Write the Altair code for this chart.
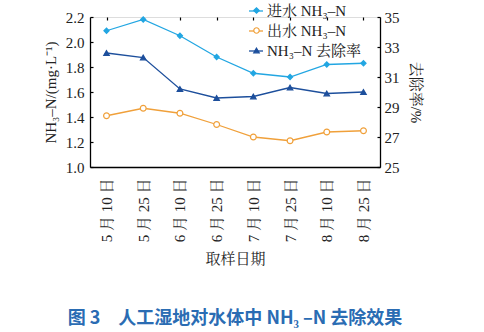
import altair as alt
import pandas as pd

dates = ["5 月 10 日", "5 月 25 日", "6 月 10 日", "6 月 25 日",
         "7 月 10 日", "7 月 25 日", "8 月 10 日", "8 月 25 日"]
inflow = [2.09, 2.18, 2.05, 1.88, 1.75, 1.72, 1.82, 1.83]
outflow = [1.41, 1.47, 1.43, 1.34, 1.24, 1.21, 1.28, 1.29]
removal = [32.6, 32.3, 30.2, 29.6, 29.7, 30.3, 29.9, 30.0]

S_IN = "进水 NH₃–N"
S_OUT = "出水 NH₃–N"
S_RM = "NH₃–N 去除率"
series = [S_IN, S_OUT, S_RM]
markers = ["m_in", "m_out", "m_rm"]
colors = ["#22a6e2", "#f0a03a", "#1d4f9c"]
fills = ["#22a6e2", "#ffffff", "#1d4f9c"]
shapes = ["diamond", "circle", "triangle-up"]

left_ticks = [1.0, 1.2, 1.4, 1.6, 1.8, 2.0, 2.2]
right_ticks = [25, 27, 29, 31, 33, 35]

rows = []
for name, mk, vals in [(S_IN, "m_in", inflow), (S_OUT, "m_out", outflow), (S_RM, "m_rm", removal)]:
    for d, v in zip(dates, vals):
        rows.append({"date": d, "series": name, "marker": mk, "value": v})
df = pd.DataFrame(rows)

FONT = "Liberation Serif, Noto Serif CJK SC, Noto Sans CJK SC"
LX, LY = 158, -14

xscale = alt.Scale(type="point", padding=0.45, domain=dates)

x_main = alt.X("date:N", scale=xscale, sort=dates, axis=alt.Axis(
    title="取样日期", labelAngle=-90, ticks=False, tickSize=0, labelPadding=11,
    domainColor="black", domainWidth=1.3, labelFont=FONT, labelFontSize=15,
    labelColor="#222", titleFont=FONT, titleFontSize=15, titleFontWeight="normal",
    titleColor="#222", titlePadding=10, grid=False))
x_tick = alt.X("date:N", scale=xscale, sort=dates, axis=alt.Axis(
    title=None, labels=False, domain=False, ticks=True, tickSize=3, offset=-3,
    tickColor="black", tickWidth=1.2, grid=False))
x_none = alt.X("date:N", scale=xscale, sort=dates, axis=None)

lscale = alt.Scale(domain=[1.0, 2.2], nice=False, zero=False)
rscale = alt.Scale(domain=[25, 35], nice=False, zero=False)

y_left_main = alt.Y("value:Q", scale=lscale, axis=alt.Axis(
    title="NH₃–N/(mg·L⁻¹)", values=left_ticks, format=".1f", ticks=False, tickSize=0,
    labelPadding=6, domainColor="black", domainWidth=1.3, labelFont=FONT,
    labelFontSize=15, labelColor="#222", titleFont=FONT, titleFontSize=15,
    titleFontWeight="normal", titleColor="#222", titlePadding=7, grid=False))
y_left_tick = alt.Y("value:Q", scale=lscale, axis=alt.Axis(
    title=None, values=left_ticks, labels=False, domain=False, tickSize=3, offset=-3,
    tickColor="black", tickWidth=1.2, grid=False))
y_left_none = alt.Y("value:Q", scale=lscale, axis=None)

y_right_main = alt.Y("value:Q", scale=rscale, axis=alt.Axis(
    orient="right", title="去除率/%", values=right_ticks, ticks=False, tickSize=0,
    labelPadding=4, domainColor="black", domainWidth=1.3, labelFont=FONT,
    labelFontSize=15, labelColor="#222", titleFont=FONT, titleFontSize=15,
    titleFontWeight="normal", titleColor="#222", titlePadding=8, grid=False))
y_right_tick = alt.Y("value:Q", scale=rscale, axis=alt.Axis(
    orient="right", title=None, values=right_ticks, labels=False, domain=False,
    tickSize=3, offset=-3, tickColor="black", tickWidth=1.2, grid=False))

line_color = alt.Color("series:N", scale=alt.Scale(domain=series, range=colors),
                       legend=alt.Legend(
                           title=None, orient="none", legendX=LX, legendY=LY,
                           symbolType="stroke", symbolSize=196, symbolStrokeWidth=1.3,
                           labelFont=FONT, labelFontSize=15, labelColor="#222",
                           rowPadding=4, padding=0, labelOffset=3))

pt_legend = alt.Legend(title=None, orient="none", legendX=LX + 1, legendY=LY,
                       symbolSize=30, symbolStrokeWidth=1.2, symbolOpacity=1,
                       labelFont=FONT, labelFontSize=15, labelExpr="' '",
                       rowPadding=4, padding=0, labelOffset=3)
pt_shape = alt.Shape("marker:N", scale=alt.Scale(domain=markers, range=shapes), legend=pt_legend)
pt_fill = alt.Fill("marker:N", scale=alt.Scale(domain=markers, range=fills), legend=pt_legend)
pt_stroke = alt.Stroke("marker:N", scale=alt.Scale(domain=markers, range=colors), legend=pt_legend)

base = alt.Chart(df)

def sel(name):
    return base.transform_filter(alt.datum.series == name)

l1 = sel(S_IN).mark_line(strokeWidth=1.3).encode(x=x_main, y=y_left_main, color=line_color)
p1 = sel(S_IN).mark_point(filled=False, size=26, strokeWidth=1.2, opacity=1).encode(
    x=x_tick, y=y_left_tick, shape=pt_shape, fill=pt_fill, stroke=pt_stroke)
l2 = sel(S_OUT).mark_line(strokeWidth=1.3).encode(x=x_none, y=y_left_none, color=line_color)
p2 = sel(S_OUT).mark_point(filled=False, size=34, strokeWidth=1.2, opacity=1).encode(
    x=x_none, y=y_left_none, shape=pt_shape, fill=pt_fill, stroke=pt_stroke)
l3 = sel(S_RM).mark_line(strokeWidth=1.3).encode(x=x_none, y=y_right_main, color=line_color)
p3 = sel(S_RM).mark_point(filled=False, size=30, strokeWidth=1.2, opacity=1).encode(
    x=x_none, y=y_right_tick, shape=pt_shape, fill=pt_fill, stroke=pt_stroke)

chart = alt.layer(l1, l2, l3, p1, p2, p3).resolve_scale(
    y="independent"
).resolve_axis(
    x="independent", y="independent"
).properties(
    width=290, height=150,
    autosize=alt.AutoSizeParams(type="none"),
    padding={"left": 90, "top": 17, "right": 104, "bottom": 165},
    title=alt.TitleParams(
        text="图 3　人工湿地对水体中 NH₃ –N 去除效果", orient="bottom", anchor="middle",
        offset=43, font="Noto Sans CJK SC", fontSize=18, fontWeight="bold",
        color="#2a6cb3"),
).configure_view(stroke=None).configure(background="white")

chart.save("out.html", embed_options={"renderer": "svg", "actions": False})
